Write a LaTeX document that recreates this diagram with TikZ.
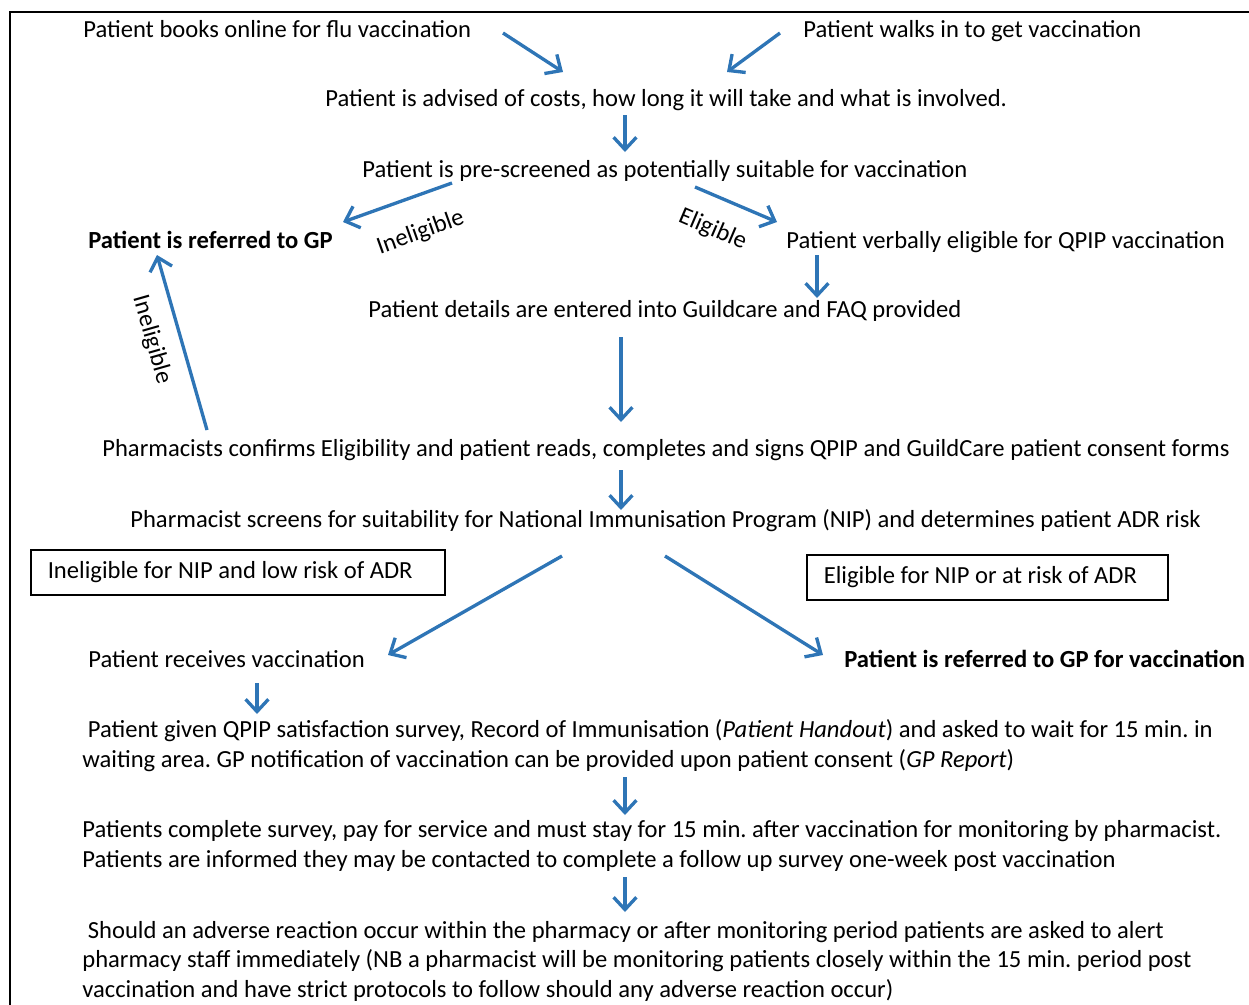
\documentclass[tikz,border=0pt]{standalone}
\usepackage{fontspec}
\setmainfont{Carlito}
\frenchspacing
\usetikzlibrary{
    arrows.meta,
    positioning
}
\definecolor{flowblue}{RGB}{46,117,182}
\tikzset{
    % Colors
    arrow color/.style={flowblue},
    %
    % Arrows
    arrow tip/.tip={Straight Barb[length=7pt,width=13pt,line width=1.9pt]},
    arr/.style={arrow color,line width=1.9pt,-{arrow tip}},
    %
    % Nodes
    step text/.style={inner sep=0pt,anchor=base west},
    para text/.style={inner sep=0pt,anchor=base west,align=flush left},
    decision box/.style={draw,line width=0.9pt,anchor=west,inner xsep=0.34cm,inner ysep=0pt,minimum height=0.9cm,align=flush left},
    branch label/.style={inner sep=0pt,black},
    frame line/.style={line width=1.1pt}
}
\tikzstyle{every node}=[font=\fontsize{14}{16.7}\selectfont]

\begin{document}
\begin{tikzpicture}[x=0.02cm,y=-0.02cm]
    \useasboundingbox (0,0) rectangle (1249,1005);
    \draw[frame line] (10,1005) -- (10,12) -- (1249,12);
    %
    % Steps
    \node[step text] (books) at (83,37) {Patient books online for flu vaccination};
    \node[step text] (walks) at (803,37) {Patient walks in to get vaccination};
    \node[step text] (advised) at (325,106.5) {Patient is advised of costs, how long it will take and what is involved.};
    \node[step text] (prescreen) at (362,177) {Patient is pre-screened as potentially suitable for vaccination};
    \node[step text,font=\fontsize{14}{16.7}\selectfont\bfseries] (referGP) at (88,248) {Patient is referred to GP};
    \node[step text] (verbal) at (786,248) {Patient verbally eligible for QPIP vaccination};
    \node[step text] (details) at (368,317) {Patient details are entered into Guildcare and FAQ provided};
    \node[step text] (confirm) at (102,456) {Pharmacists confirms Eligibility and patient reads, completes and signs QPIP and GuildCare patient consent forms};
    \node[step text] (nipscreen) at (130,527) {Pharmacist screens for suitability for National Immunisation Program (NIP) and determines patient ADR risk};
    \node[decision box,text width=7.6cm] (lowrisk) at (30,572.5) {Ineligible for NIP and low risk of ADR};
    \node[decision box,text width=6.54cm] (atrisk) at (806,577.5) {Eligible for NIP or at risk of ADR};
    \node[step text] (receives) at (88,667) {Patient receives vaccination};
    \node[step text,font=\fontsize{14}{16.7}\selectfont\bfseries] (referVacc) at (844,667) {Patient is referred to GP for vaccination};
    % multi-line nodes sit on the baseline of their last line
    \node[para text] (survey) at (82,767) {\hspace*{0.11cm}Patient given QPIP satisfaction survey, Record of Immunisation (\textit{Patient Handout}) and asked to wait for 15 min. in\\waiting area. GP notification of vaccination can be provided upon patient consent (\textit{GP Report})};
    \node[para text] (monitor) at (82,867) {Patients complete survey, pay for service and must stay for 15 min. after vaccination for monitoring by pharmacist.\\Patients are informed they may be contacted to complete a follow up survey one-week post vaccination};
    \node[para text] (adverse) at (82,997) {\hspace*{0.11cm}Should an adverse reaction occur within the pharmacy or after monitoring period patients are asked to alert\\pharmacy staff immediately (NB a pharmacist will be monitoring patients closely within the 15 min. period post\\vaccination and have strict protocols to follow should any adverse reaction occur)};
    %
    % Arrow ends
    \coordinate (books out) at (503,33);
    \coordinate (walks out) at (780,33);
    \coordinate (advised inL) at (563,72);
    \coordinate (advised inR) at (727,72);
    \coordinate (advised out) at (625,115);
    \coordinate (prescreen in) at (625,152);
    \coordinate (prescreen outL) at (452,183);
    \coordinate (referGP in) at (343,222);
    \coordinate (prescreen outR) at (695,187);
    \coordinate (verbal in) at (777,222);
    \coordinate (verbal out) at (817,255);
    \coordinate (details in) at (817,298);
    \coordinate (details out) at (621,337);
    \coordinate (confirm in) at (621,422);
    \coordinate (confirm back) at (207,430);
    \coordinate (referGP back) at (157,255);
    \coordinate (confirm out) at (621,470);
    \coordinate (nipscreen in) at (621,510);
    \coordinate (nipscreen outL) at (562,556);
    \coordinate (receives in) at (388,655);
    \coordinate (nipscreen outR) at (665,556);
    \coordinate (referVacc in) at (823,655);
    \coordinate (receives out) at (257,683);
    \coordinate (survey in) at (257,714);
    \coordinate (survey out) at (625,777);
    \coordinate (monitor in) at (625,815);
    \coordinate (monitor out) at (625,877);
    \coordinate (adverse in) at (625,912);
    %
    % Connectors
    \draw[arr] (books out) -- (advised inL);
    \draw[arr] (walks out) -- (advised inR);
    \draw[arr] (advised out) -- (prescreen in);
    \draw[arr] (prescreen outL) -- (referGP in) node[branch label,pos=.4,sloped,below=0.48cm] {Ineligible};
    \draw[arr] (prescreen outR) -- (verbal in) node[branch label,pos=.37,sloped,below=0.4cm] {Eligible};
    \draw[arr] (verbal out) -- (details in);
    \draw[arr] (details out) -- (confirm in);
    \draw[arr] (confirm back) -- (referGP back) node[branch label,pos=.56,sloped,below=0.32cm] {Ineligible};
    \draw[arr] (confirm out) -- (nipscreen in);
    \draw[arr] (nipscreen outL) -- (receives in);
    \draw[arr] (nipscreen outR) -- (referVacc in);
    \draw[arr] (receives out) -- (survey in);
    \draw[arr] (survey out) -- (monitor in);
    \draw[arr] (monitor out) -- (adverse in);
\end{tikzpicture}
\end{document}
